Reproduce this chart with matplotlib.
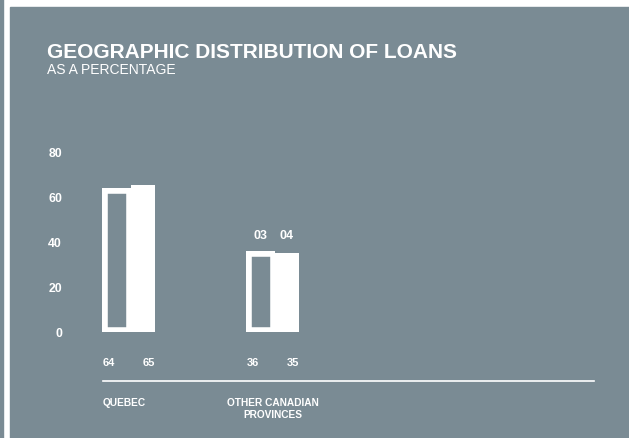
import matplotlib
matplotlib.use('Agg')
import matplotlib.pyplot as plt
from matplotlib.patches import Rectangle
import numpy as np

plt.rcParams['font.family'] = ['Liberation Sans', 'DejaVu Sans']

# loans by region, in percent
regions = ['QUEBEC', 'OTHER CANADIAN\nPROVINCES']
years = ['03', '04']
pct_2003 = [64, 36]
pct_2004 = [65, 35]
yticks = [0, 20, 40, 60, 80]

BG = '#7a8b94'
W, H = 629, 439

fig = plt.figure(figsize=(W / 100, H / 100), dpi=100)
fig.patch.set_facecolor('white')
# grey panel and the thin strip at the far left
fig.patches.append(Rectangle((10 / W, 0), 1 - 10 / W, 1 - 8 / H,
                             transform=fig.transFigure, color=BG, zorder=-5))
fig.patches.append(Rectangle((0, 0), 2.5 / W, 1,
                             transform=fig.transFigure, color=BG, zorder=-5))

ax = fig.add_axes([103 / W, (H - 332.5) / H, (594 - 103) / W, 180 / H])
ax.set_facecolor('none')
ax.set_zorder(2)
ax.set_xlim(-0.194, 3.215)
ax.set_ylim(0, 80)

x = np.arange(len(regions))
w_out, w_fill = 0.198, 0.167

# 2003: outlined bars, stroke kept inside the bar
bars03 = ax.bar(x, pct_2003, width=-w_out, align='edge',
                facecolor='none', edgecolor='white', linewidth=7.6)
for b in bars03:
    b.set_clip_path(b)
# 2004: solid bars
bars04 = ax.bar(x, pct_2004, width=w_fill, align='edge', color='white', linewidth=0)

for s in ax.spines.values():
    s.set_visible(False)
ax.set_xticks([])
ax.set_yticks(yticks)
ax.set_yticklabels([str(t) for t in yticks])
ax.tick_params(axis='y', length=0, pad=29.5, labelcolor='white', labelsize=8.8)
for lbl in ax.get_yticklabels():
    lbl.set_fontweight('bold')

# values under each bar
for i in range(len(regions)):
    ax.text(x[i] - w_out, -13.7, str(pct_2003[i]), color='white', fontsize=8,
            fontweight='bold', ha='left', va='center', clip_on=False)
    ax.text(x[i] + w_fill, -13.7, str(pct_2004[i]), color='white', fontsize=8,
            fontweight='bold', ha='right', va='center', clip_on=False)

# year markers above the last group
last = len(regions) - 1
ax.annotate(years[0], (x[last] - w_out / 2, pct_2003[last]), xytext=(0, 11.5),
            textcoords='offset points', ha='center', va='center',
            color='white', fontsize=9, fontweight='bold')
ax.annotate(years[1], (x[last] + w_fill / 2, pct_2004[last]), xytext=(0, 13),
            textcoords='offset points', ha='center', va='center',
            color='white', fontsize=9, fontweight='bold')

# rule and region names
ax.axhline(-22.2, xmin=0, xmax=1, color='white', linewidth=1.2, clip_on=False)
ax.text(x[0] - w_out, -31.5, regions[0], color='white', fontsize=7.3,
        fontweight='bold', ha='left', va='center', clip_on=False)
ax.text(x[1] + (w_fill - w_out) / 2, -29.0, regions[1], color='white', fontsize=7.3,
        fontweight='bold', ha='center', va='top', linespacing=1.25,
        multialignment='center', clip_on=False)

fig.text(47 / W, 1 - 52.5 / H, 'GEOGRAPHIC DISTRIBUTION OF LOANS', color='white',
         fontsize=15, fontweight='bold', ha='left', va='center')
fig.text(47 / W, 1 - 70.5 / H, 'AS A PERCENTAGE', color='white',
         fontsize=10, ha='left', va='center')

fig.savefig('out.png', dpi=100, facecolor=fig.get_facecolor())
